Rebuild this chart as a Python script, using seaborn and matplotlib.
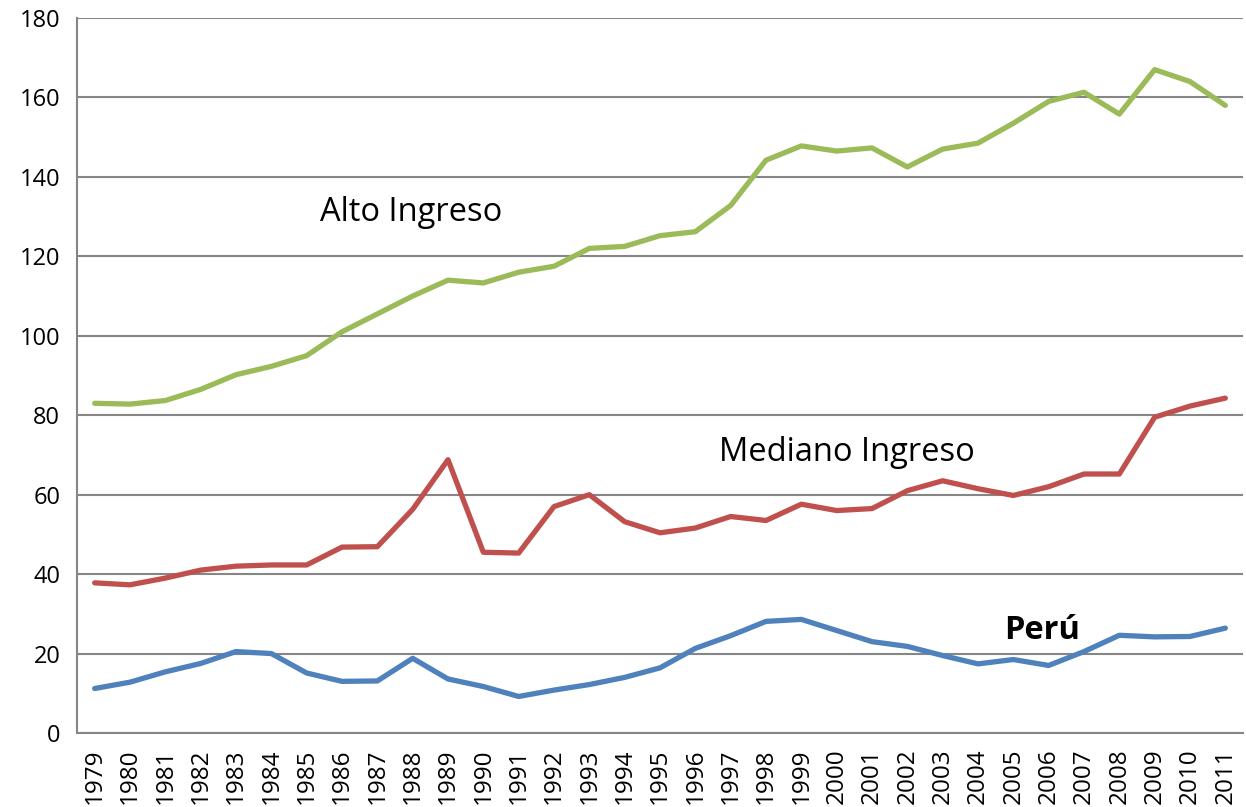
import numpy as np
import pandas as pd
import matplotlib
matplotlib.use("Agg")
import matplotlib.pyplot as plt
import seaborn as sns
from matplotlib.ticker import FixedLocator, NullFormatter

years = [str(y) for y in range(1979, 2012)]
alto = [83.0, 82.8, 83.7, 86.5, 90.2, 92.3, 95.0, 101.0, 105.5, 110.0, 114.0, 113.3,
        116.0, 117.5, 122.0, 122.5, 125.2, 126.2, 132.8, 144.2, 147.8, 146.5, 147.3,
        142.5, 147.0, 148.5, 153.5, 159.0, 161.3, 155.8, 167.0, 164.0, 158.0]
mediano = [37.8, 37.3, 39.0, 41.0, 42.0, 42.3, 42.3, 46.8, 46.9, 56.3, 68.8, 45.5,
           45.3, 57.0, 60.0, 53.2, 50.4, 51.6, 54.5, 53.5, 57.6, 56.0, 56.5, 61.0,
           63.5, 61.5, 59.8, 62.0, 65.2, 65.2, 79.5, 82.3, 84.3]
peru = [11.2, 12.8, 15.4, 17.5, 20.5, 20.0, 15.1, 13.0, 13.1, 18.8, 13.6, 11.7, 9.2,
        10.8, 12.2, 14.0, 16.4, 21.3, 24.5, 28.1, 28.6, 25.8, 23.0, 21.8, 19.5, 17.4,
        18.5, 17.0, 20.5, 24.6, 24.2, 24.3, 26.4]
series_names = ["Alto Ingreso", "Mediano Ingreso", "Perú"]
colors = ["#9BBB59", "#C0504D", "#4F81BD"]
yticks = list(range(0, 181, 20))

sns.set_theme(style="white")
plt.rcParams['font.family'] = ['Open Sans', 'DejaVu Sans']

idx = np.arange(len(years))
df = pd.DataFrame({
    "pos": np.concatenate([idx, idx, idx]),
    "valor": alto + mediano + peru,
    "serie": np.repeat(series_names, len(years)),
})

fig = plt.figure(figsize=(12.46, 8.07), dpi=100)
ax = fig.add_axes([77/1246, 1 - 733/807, (1243 - 77)/1246, (733 - 18)/807])

sns.lineplot(data=df, x="pos", y="valor", hue="serie", palette=colors,
             hue_order=series_names, linewidth=3.8, legend=False, ax=ax,
             solid_capstyle="round", zorder=3)

ax.set_xlim(-0.5, len(years) - 0.5)
ax.set_ylim(0, 180)
ax.set_yticks(yticks)
ax.set_yticklabels([str(v) for v in yticks], fontsize=17)
ax.set_xticks(idx)
ax.set_xticklabels(years, rotation=90, fontsize=17.5)
ax.xaxis.set_minor_locator(FixedLocator(np.arange(len(years) + 1) - 0.5))
ax.xaxis.set_minor_formatter(NullFormatter())
ax.tick_params(axis="x", which="major", length=0, pad=11, labelcolor="black")
ax.tick_params(axis="x", which="minor", length=8, width=1.5, color="#868686")
ax.tick_params(axis="y", which="major", length=8, width=1.5, color="#868686", pad=4,
               labelcolor="black")
ax.grid(axis="y", color="#868686", linewidth=1.5, zorder=0)
ax.grid(axis="x", visible=False)
ax.set_xlabel("")
ax.set_ylabel("")
for side in ["top", "right"]:
    ax.spines[side].set_visible(False)
for side in ["left", "bottom"]:
    ax.spines[side].set_color("#868686")
    ax.spines[side].set_linewidth(1.5)

ax.text(8.95, 131, "Alto Ingreso", fontsize=23.5, ha="center", va="center", color="black")
ax.text(21.3, 70.5, "Mediano Ingreso", fontsize=23.5, ha="center", va="center", color="black")
ax.text(26.8, 25.7, "Perú", fontsize=23.5, fontweight="bold", ha="center", va="center", color="black")

fig.savefig("out.png", dpi=100)
